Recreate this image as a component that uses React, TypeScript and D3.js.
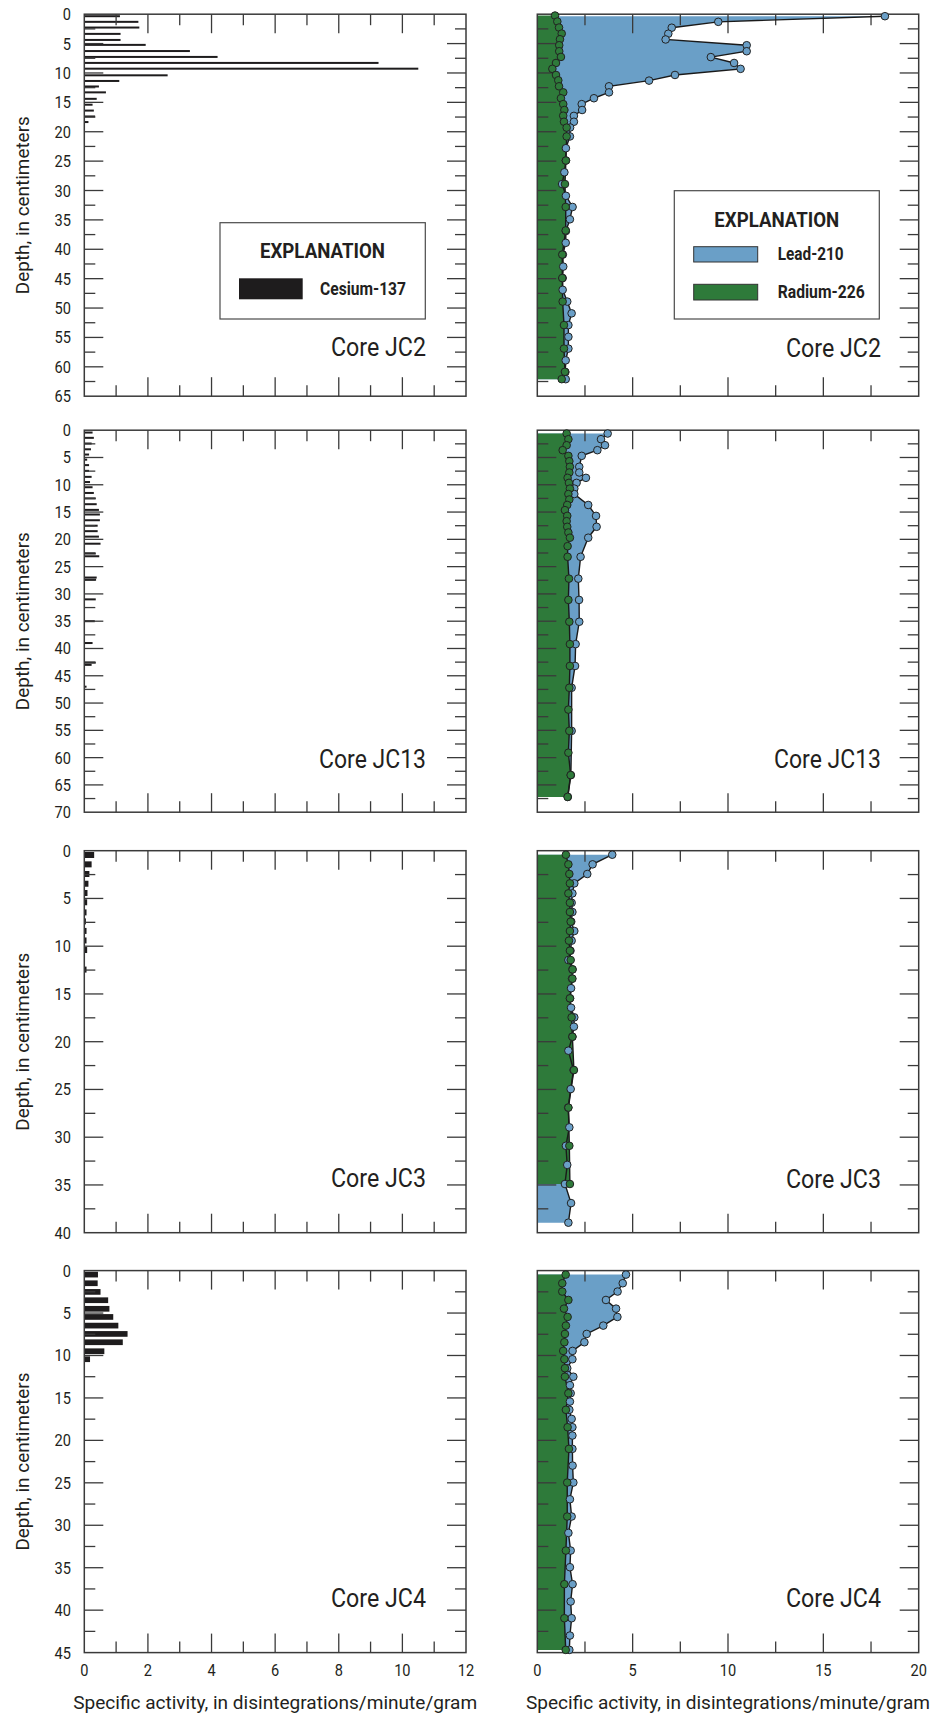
import React from "react";
import * as d3 from "d3";

// ---------------- data ----------------
const coreNames = ["JC2", "JC13", "JC3", "JC4"];
const coreMaxDepth = [65, 70, 40, 45];
const cesiumTickValues = [0, 2, 4, 6, 8, 10, 12];
const leadTickValues = [0, 5, 10, 15, 20];

// [depth cm, Cs-137 activity dpm/g]
const cesiumJC2 = [
  [0.34, 1.12], [1.3, 1.7], [2.27, 1.73], [3.35, 1.14], [4.38, 1.14], [5.22, 1.93],
  [6.27, 3.32], [7.27, 4.19], [8.29, 9.25], [9.27, 10.5], [10.4, 2.62], [11.36, 1.1],
  [12.3, 0.46], [13.3, 0.68], [14.4, 0.39], [15.4, 0.26], [16.4, 0.3], [17.4, 0.34], [18.35, 0.13],
];
const cesiumJC13 = [
  [0.43, 0.26], [1.4, 0.3], [2.44, 0.23], [3.5, 0.21], [4.46, 0.15], [5.4, 0.09], [6.4, 0.15],
  [7.45, 0.15], [8.55, 0.23], [9.5, 0.18], [10.45, 0.26], [11.5, 0.3], [12.5, 0.36], [13.56, 0.39],
  [14.6, 0.46], [15.45, 0.49], [16.5, 0.49], [17.5, 0.42], [18.5, 0.42], [19.5, 0.46], [20.8, 0.51],
  [22.6, 0.36], [23.1, 0.47], [27.0, 0.39], [27.4, 0.37], [31.0, 0.36], [35.0, 0.33], [39.0, 0.26],
  [42.6, 0.36], [43.0, 0.23], [47.0, 0.07],
];
const cesiumJC3 = [
  [0.45, 0.31], [1.43, 0.23], [2.44, 0.16], [3.46, 0.13], [4.43, 0.1], [5.4, 0.09], [6.46, 0.07],
  [7.4, 0.05], [8.4, 0.07], [9.4, 0.07], [10.4, 0.09], [12.45, 0.07],
];
const cesiumJC4 = [
  [0.47, 0.43], [1.49, 0.42], [2.51, 0.51], [3.49, 0.75], [4.5, 0.79], [5.46, 0.91],
  [6.48, 1.07], [7.46, 1.36], [8.44, 1.21], [9.5, 0.63], [10.44, 0.18],
];

// [depth cm, Pb-210 activity dpm/g]
const leadJC2 = [
  [0.34, 18.23], [1.3, 9.49], [2.3, 7.05], [3.32, 6.87], [4.3, 6.73], [5.28, 10.98], [6.3, 10.98],
  [7.3, 9.1], [8.3, 10.32], [9.3, 10.66], [10.34, 7.22], [11.3, 5.86], [12.27, 3.76], [13.3, 3.76],
  [14.3, 2.97], [15.3, 2.33], [16.3, 2.35], [17.3, 1.92], [18.3, 1.92], [19.28, 1.72], [20.8, 1.71],
  [22.8, 1.5], [24.9, 1.5], [26.9, 1.42], [28.9, 1.3], [30.9, 1.5], [32.8, 1.85], [34.9, 1.71],
  [36.9, 1.5], [38.9, 1.49], [40.9, 1.34], [42.95, 1.36], [44.9, 1.33], [46.9, 1.33], [48.9, 1.57],
  [50.9, 1.8], [52.9, 1.63], [54.9, 1.63], [56.9, 1.63], [58.9, 1.49], [60.9, 1.47], [62.1, 1.49],
];
const radiumJC2 = [
  [0.23, 0.93], [1.25, 1.05], [2.27, 1.14], [3.3, 1.28], [4.26, 1.19], [5.28, 1.15], [6.3, 1.15],
  [7.27, 1.24], [8.3, 0.98], [9.3, 0.79], [10.34, 0.98], [11.25, 1.1], [12.27, 1.14], [13.3, 1.36],
  [14.3, 1.24], [15.3, 1.36], [16.3, 1.42], [17.27, 1.36], [18.3, 1.4], [19.3, 1.54], [20.8, 1.54],
  [24.9, 1.5], [28.9, 1.45], [32.8, 1.49], [36.8, 1.49], [40.9, 1.31], [44.9, 1.31], [48.9, 1.33],
  [52.9, 1.4], [56.9, 1.4], [60.85, 1.45], [62.1, 1.28],
];
const leadJC13 = [
  [0.61, 3.69], [1.65, 3.34], [2.75, 3.55], [3.66, 3.15], [4.7, 2.33], [6.7, 2.2], [7.75, 2.2],
  [8.73, 2.55], [9.65, 2.06], [10.7, 1.94], [11.7, 1.94], [13.7, 2.67], [15.7, 3.08], [17.7, 3.11],
  [19.7, 2.67], [23.2, 2.27], [27.2, 2.15], [31.1, 2.19], [35.1, 2.2], [39.2, 2.01], [43.2, 1.98],
  [47.2, 1.8], [55.1, 1.8], [63.2, 1.76], [67.2, 1.6],
];
const radiumJC13 = [
  [0.61, 1.54], [1.65, 1.63], [2.75, 1.54], [3.66, 1.33], [4.7, 1.63], [5.68, 1.68], [6.7, 1.71],
  [7.75, 1.68], [8.73, 1.59], [9.65, 1.66], [10.7, 1.71], [11.7, 1.63], [12.7, 1.68], [13.7, 1.57],
  [14.65, 1.45], [15.7, 1.57], [16.67, 1.54], [17.7, 1.57], [18.74, 1.63], [19.7, 1.71], [21.25, 1.59],
  [23.2, 1.59], [27.2, 1.66], [31.1, 1.63], [35.1, 1.68], [39.2, 1.71], [43.2, 1.71], [47.2, 1.68],
  [51.2, 1.63], [55.1, 1.68], [59.1, 1.63], [63.2, 1.75], [67.2, 1.59],
];
const leadJC3 = [
  [0.42, 3.93], [1.43, 2.9], [2.44, 2.62], [3.42, 1.94], [4.47, 1.84], [5.45, 1.8], [6.42, 1.84],
  [7.43, 1.78], [8.41, 1.94], [9.42, 1.8], [10.47, 1.74], [11.45, 1.63], [12.43, 1.84], [13.4, 1.82],
  [14.4, 1.77], [15.46, 1.72], [16.44, 1.77], [17.45, 1.94], [18.43, 1.92], [19.48, 1.84], [20.94, 1.63],
  [22.97, 1.9], [24.96, 1.75], [26.9, 1.62], [28.97, 1.68], [30.9, 1.5], [32.9, 1.57], [34.9, 1.45],
  [36.9, 1.77], [38.95, 1.63],
];
const radiumJC3 = [
  [0.42, 1.5], [1.43, 1.63], [2.44, 1.68], [3.42, 1.71], [4.47, 1.63], [5.45, 1.71], [6.42, 1.71],
  [7.43, 1.75], [8.41, 1.71], [9.42, 1.66], [10.47, 1.71], [11.45, 1.75], [12.43, 1.85], [13.4, 1.84],
  [15.46, 1.71], [17.45, 1.8], [19.48, 1.84], [22.97, 1.92], [26.9, 1.63], [30.9, 1.68], [34.9, 1.71],
];
const leadJC4 = [
  [0.47, 4.65], [1.49, 4.48], [2.47, 4.21], [3.46, 3.6], [4.48, 4.13], [5.46, 4.2], [6.48, 3.46],
  [7.46, 2.59], [8.44, 2.47], [9.46, 1.85], [10.44, 1.84], [11.5, 1.57], [12.5, 1.89], [13.5, 1.71],
  [14.45, 1.75], [15.43, 1.71], [16.4, 1.68], [17.47, 1.8], [18.45, 1.84], [19.43, 1.84], [21.0, 1.84],
  [22.97, 1.85], [24.97, 1.89], [26.94, 1.71], [28.97, 1.8], [30.9, 1.63], [32.98, 1.75], [34.94, 1.71],
  [36.94, 1.85], [38.98, 1.75], [40.95, 1.8], [42.99, 1.71], [44.68, 1.68],
];
const radiumJC4 = [
  [0.47, 1.49], [1.49, 1.31], [2.47, 1.31], [3.46, 1.63], [4.48, 1.4], [5.46, 1.59], [6.48, 1.5],
  [7.46, 1.45], [8.44, 1.42], [9.46, 1.36], [10.44, 1.42], [11.5, 1.45], [12.5, 1.45], [14.45, 1.63],
  [16.4, 1.5], [18.45, 1.59], [21.0, 1.66], [24.97, 1.57], [28.97, 1.57], [32.98, 1.5], [36.94, 1.42],
  [40.95, 1.42], [44.68, 1.49],
];

const cesiumByCore = [cesiumJC2, cesiumJC13, cesiumJC3, cesiumJC4];
const leadByCore = [leadJC2, leadJC13, leadJC3, leadJC4];
const radiumByCore = [radiumJC2, radiumJC13, radiumJC3, radiumJC4];

// ---------------- layout / style ----------------
const W = 943;
const H = 1717;
const panelTops = [14.2, 430.2, 850.7, 1270.6];
const panelH = 382;
const leftRange = [84.3, 466];
const rightRange = [537.3, 918.7];
const barThickness = [2, 2, 6, 5.7];
const coreLabelInset = [40, 44.5, 45.5, 46];
const MAJOR = 19;
const MINOR = 11;
const DIGIT_W = 8.2;

const INK = "#231f20";
const FRAME = "#3a3a3a";
const BLUE = "#6a9fc7";
const GREEN = "#2e7a3a";
const FONT = "Roboto, 'Liberation Sans', sans-serif";

type Pt = number[];

function Frame(props: {
  x: d3.ScaleLinear<number, number>;
  y: d3.ScaleLinear<number, number>;
  xMax: number;
  xStep: number;
  xMajorEvery: number;
  dMax: number;
}) {
  const { x, y, xMax, xStep, xMajorEvery, dMax } = props;
  const [x0, x1] = x.range();
  const [y0, y1] = y.range();
  const lines: JSX.Element[] = [];
  const xs = d3.range(xStep, xMax - 1e-9, xStep);
  xs.forEach((v, i) => {
    const major = Math.abs(v / xMajorEvery - Math.round(v / xMajorEvery)) < 1e-6;
    const len = major ? MAJOR : MINOR;
    const px = x(v);
    lines.push(<line key={"xt" + i} x1={px} x2={px} y1={y0} y2={y0 + len} />);
    lines.push(<line key={"xb" + i} x1={px} x2={px} y1={y1} y2={y1 - len} />);
  });
  const ds = d3.range(2.5, dMax - 1e-9, 2.5);
  ds.forEach((d, i) => {
    const major = d % 5 === 0;
    const len = major ? MAJOR : MINOR;
    const py = y(d);
    lines.push(<line key={"yl" + i} x1={x0} x2={x0 + len} y1={py} y2={py} />);
    lines.push(<line key={"yr" + i} x1={x1} x2={x1 - len} y1={py} y2={py} />);
  });
  return (
    <g stroke={FRAME} strokeWidth={1.3} fill="none">
      {lines}
      <rect x={x0} y={y0} width={x1 - x0} height={y1 - y0} strokeWidth={1.5} />
    </g>
  );
}

function CoreLabel({ name, xRight, yBottom, inset }: { name: string; xRight: number; yBottom: number; inset: number }) {
  return (
    <text
      x={xRight}
      y={yBottom - inset}
      textAnchor="end"
      fontSize={25}
      fill={INK}
      textLength={name.length > 3 ? 107 : 95}
      lengthAdjust="spacingAndGlyphs"
    >
      {"Core " + name}
    </text>
  );
}

function NumLabel({ x, y, v, anchor }: { x: number; y: number; v: number; anchor: string }) {
  const s = String(v);
  return (
    <text x={x} y={y} textAnchor={anchor} textLength={s.length * DIGIT_W} lengthAdjust="spacingAndGlyphs">
      {s}
    </text>
  );
}

export default function App() {
  const panels = coreNames.map((name, i) => {
    const top = panelTops[i];
    const bottom = top + panelH;
    const dMax = coreMaxDepth[i];
    const yScale = d3.scaleLinear().domain([0, dMax]).range([top, bottom]);
    const xCs = d3.scaleLinear().domain([0, 12]).range(leftRange);
    const xPb = d3.scaleLinear().domain([0, 20]).range(rightRange);
    const isLast = i === coreNames.length - 1;

    const areaPb = d3
      .area<Pt>()
      .y((d) => yScale(d[0]))
      .x0(xPb(0))
      .x1((d) => xPb(d[1]));
    const linePb = d3
      .line<Pt>()
      .x((d) => xPb(d[1]))
      .y((d) => yScale(d[0]));

    const lead = leadByCore[i];
    const radium = radiumByCore[i];
    const cs = cesiumByCore[i];
    const th = barThickness[i];

    const depthLabels = d3.range(0, dMax + 0.001, 5);

    return (
      <g key={name}>
        {/* ---------- Cesium panel ---------- */}
        <g>
          {cs.map((d, j) => (
            <rect
              key={j}
              x={xCs(0)}
              y={yScale(d[0]) - th / 2}
              width={xCs(d[1]) - xCs(0)}
              height={th}
              fill="#1e1c1d"
            />
          ))}
        </g>
        <Frame x={xCs} y={yScale} xMax={12} xStep={1} xMajorEvery={2} dMax={dMax} />
        <g fontFamily={FONT} fontSize={16.5} fill={INK}>
          {depthLabels.map((d) => (
            <NumLabel key={d} x={71} y={yScale(d) + 6} v={d} anchor="end" />
          ))}
        </g>
        <text
          transform={`translate(29,${(top + bottom) / 2}) rotate(-90)`}
          textAnchor="middle"
          fontFamily={FONT}
          fontSize={18.5}
          fill={INK}
          textLength={178}
          lengthAdjust="spacingAndGlyphs"
        >
          Depth, in centimeters
        </text>
        <g fontFamily={FONT}>
          <CoreLabel name={name} xRight={426} yBottom={bottom} inset={coreLabelInset[i]} />
        </g>

        {/* ---------- Lead / Radium panel ---------- */}
        <path d={areaPb(lead) || ""} fill={BLUE} />
        <path d={areaPb(radium) || ""} fill={GREEN} />
        <Frame x={xPb} y={yScale} xMax={20} xStep={2.5} xMajorEvery={5} dMax={dMax} />
        <path d={linePb(lead) || ""} fill="none" stroke="#1a1a1a" strokeWidth={1.4} />
        <path d={linePb(radium) || ""} fill="none" stroke="#1a1a1a" strokeWidth={1.4} />
        {lead.map((d, j) => (
          <circle key={"pb" + j} cx={xPb(d[1])} cy={yScale(d[0])} r={3.8} fill={BLUE} stroke="#222" strokeWidth={1} />
        ))}
        {radium.map((d, j) => (
          <circle key={"ra" + j} cx={xPb(d[1])} cy={yScale(d[0])} r={3.8} fill={GREEN} stroke="#222" strokeWidth={1} />
        ))}
        <g fontFamily={FONT}>
          <CoreLabel name={name} xRight={881} yBottom={bottom} inset={coreLabelInset[i] - 0.5} />
        </g>

        {isLast && (
          <g fontFamily={FONT} fill={INK}>
            <g fontSize={16.5}>
              {cesiumTickValues.map((v) => (
                <NumLabel key={"cx" + v} x={xCs(v)} y={bottom + 23} v={v} anchor="middle" />
              ))}
              {leadTickValues.map((v) => (
                <NumLabel key={"px" + v} x={xPb(v)} y={bottom + 23} v={v} anchor="middle" />
              ))}
            </g>
            <text
              x={(leftRange[0] + leftRange[1]) / 2}
              y={bottom + 56}
              textAnchor="middle"
              fontSize={18.5}
              textLength={404}
              lengthAdjust="spacingAndGlyphs"
            >
              Specific activity, in disintegrations/minute/gram
            </text>
            <text
              x={(rightRange[0] + rightRange[1]) / 2}
              y={bottom + 56}
              textAnchor="middle"
              fontSize={18.5}
              textLength={404}
              lengthAdjust="spacingAndGlyphs"
            >
              Specific activity, in disintegrations/minute/gram
            </text>
          </g>
        )}
      </g>
    );
  });

  return (
    <svg
      width={W}
      height={H}
      viewBox={`0 0 ${W} ${H}`}
      style={{ position: "absolute", left: 0, top: 0, display: "block", background: "#fff" }}
    >
      <rect x={0} y={0} width={W} height={H} fill="#fff" />
      {panels}

      {/* Cesium legend */}
      <g fontFamily={FONT} fill={INK}>
        <rect x={220} y={222.7} width={205.3} height={96.3} fill="#fff" stroke="#4a4a4a" strokeWidth={1.2} />
        <text x={322.5} y={258.3} textAnchor="middle" fontSize={21} fontWeight="bold" textLength={125} lengthAdjust="spacingAndGlyphs">
          EXPLANATION
        </text>
        <rect x={239} y={278.3} width={63.7} height={21} fill="#1e1c1d" />
        <text x={320} y={295} fontSize={17.5} fontWeight="bold" textLength={86} lengthAdjust="spacingAndGlyphs">
          Cesium-137
        </text>
      </g>

      {/* Lead / Radium legend */}
      <g fontFamily={FONT} fill={INK}>
        <rect x={674.3} y={190.7} width={205} height={128.3} fill="#fff" stroke="#4a4a4a" strokeWidth={1.2} />
        <text x={776.8} y={226.7} textAnchor="middle" fontSize={21} fontWeight="bold" textLength={125} lengthAdjust="spacingAndGlyphs">
          EXPLANATION
        </text>
        <rect x={693.7} y={246.7} width={64} height={15.3} fill={BLUE} stroke="#333" strokeWidth={1} />
        <text x={777.7} y={260} fontSize={17.5} fontWeight="bold" textLength={66} lengthAdjust="spacingAndGlyphs">
          Lead-210
        </text>
        <rect x={693.7} y={284.3} width={64} height={15.7} fill={GREEN} stroke="#333" strokeWidth={1} />
        <text x={777.7} y={297.7} fontSize={17.5} fontWeight="bold" textLength={87} lengthAdjust="spacingAndGlyphs">
          Radium-226
        </text>
      </g>
    </svg>
  );
}
